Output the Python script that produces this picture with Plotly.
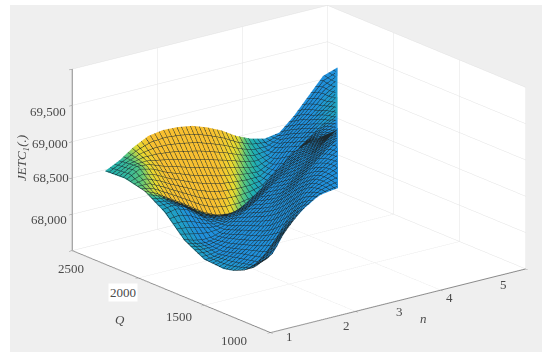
"""JETC surface over Q and n, drawn with Plotly."""

import numpy as np
import plotly.graph_objects as go

Q_ROWS = [2350, 2275, 2200, 2125, 2050, 1975, 1900, 1825, 1750, 1675, 1600, 1525, 1450, 1375, 1300, 1225, 1150]
N_LEFT = 1.2
N_RIGHT = [4.848, 4.692, 4.536, 4.382, 4.228, 4.072, 3.916, 3.762, 3.608, 3.454, 3.30, 3.144, 2.988, 2.834, 2.68, 2.524, 2.368]

JETC = [
    [68662, 68762, 68900, 69000, 69030, 69020, 68987, 68917, 68825, 68700, 68612, 68562, 68595, 68775, 69000, 69225, 69292],
    [68668, 68775, 68825, 68831, 68815, 68778, 68737, 68677, 68612, 68531, 68475, 68493, 68597, 68756, 68937, 69125, 69226],
    [68675, 68787, 68750, 68662, 68600, 68537, 68487, 68437, 68400, 68362, 68337, 68425, 68600, 68737, 68875, 69025, 69160],
    [68643, 68662, 68587, 68493, 68406, 68318, 68256, 68218, 68206, 68212, 68243, 68375, 68575, 68718, 68850, 68981, 69098],
    [68612, 68537, 68425, 68325, 68212, 68100, 68025, 68000, 68012, 68062, 68150, 68325, 68550, 68700, 68825, 68937, 69037],
    [68525, 68500, 68425, 68318, 68206, 68131, 68100, 68112, 68168, 68250, 68362, 68512, 68687, 68793, 68875, 68943, 69006],
    [68437, 68475, 68425, 68312, 68200, 68162, 68175, 68225, 68325, 68437, 68575, 68700, 68825, 68887, 68925, 68950, 68975],
    [68300, 68293, 68256, 68206, 68175, 68197, 68250, 68318, 68412, 68518, 68637, 68750, 68862, 68933, 68987, 69030, 69068],
    [68162, 68112, 68087, 68100, 68150, 68232, 68325, 68412, 68500, 68600, 68700, 68800, 68900, 68980, 69050, 69110, 69162],
    [68087, 68067, 68068, 68107, 68175, 68260, 68350, 68437, 68525, 68625, 68725, 68831, 68937, 69027, 69112, 69191, 69262],
    [68012, 68022, 68050, 68115, 68200, 68287, 68375, 68462, 68550, 68650, 68750, 68862, 68975, 69075, 69175, 69272, 69362],
    [68002, 68031, 68075, 68140, 68218, 68301, 68387, 68483, 68587, 68700, 68812, 68921, 69025, 69120, 69212, 69298, 69375],
    [67992, 68040, 68100, 68165, 68237, 68315, 68400, 68505, 68625, 68750, 68875, 68980, 69075, 69165, 69250, 69325, 69387],
    [68025, 68070, 68118, 68180, 68256, 68342, 68437, 68552, 68675, 68797, 68912, 69002, 69081, 69150, 69212, 69270, 69318],
    [68087, 68107, 68137, 68195, 68275, 68370, 68475, 68600, 68725, 68845, 68950, 69025, 69087, 69135, 69175, 69215, 69250],
    [68180, 68220, 68260, 68335, 68430, 68525, 68612, 68705, 68800, 68885, 68956, 69015, 69062, 69093, 69118, 69142, 69163],
    [68332, 68355, 68400, 68490, 68600, 68680, 68750, 68815, 68875, 68925, 68962, 69005, 69037, 69052, 69062, 69070, 69077],
]

SHADE = [
    [0.3, 0.35, 0.75, 1, 1, 1, 1, 1, 0.95, 0.85, 0.35, 0.1, 0, 0, 0, 0, 0],
    [0.33, 0.42, 0.8, 1, 1, 1, 1, 1, 0.9, 0.7, 0.3, 0.05, 0, 0, 0, 0, 0.05],
    [0.35, 0.5, 0.85, 1, 1, 1, 1, 1, 0.85, 0.55, 0.25, 0.05, 0, 0, 0, 0.1, 0.1],
    [0.45, 0.65, 0.9, 1, 1, 1, 1, 1, 0.75, 0.4, 0.15, 0, 0, 0, 0, 0.1, 0.2],
    [0.6, 0.8, 1, 1, 1, 1, 1, 0.85, 0.55, 0.25, 0.08, 0, 0, 0, 0, 0.1, 0.2],
    [0.2, 0.12, 0, 0, 0, 0, 0, 0, 0, 0, 0, 0, 0, 0, 0, 0, 0],
    [0.2, 0.12, 0, 0, 0, 0, 0, 0, 0, 0, 0, 0, 0, 0, 0, 0, 0],
    [0.2, 0.12, 0, 0, 0, 0, 0, 0, 0, 0, 0, 0, 0, 0, 0, 0, 0],
    [0.2, 0.12, 0, 0, 0, 0, 0, 0, 0, 0, 0, 0, 0, 0, 0, 0, 0],
    [0.2, 0.12, 0, 0, 0, 0, 0, 0, 0, 0, 0, 0, 0, 0, 0, 0, 0],
    [0.12, 0.06, 0, 0, 0, 0, 0, 0, 0, 0, 0, 0, 0, 0, 0, 0, 0],
    [0.12, 0.06, 0, 0, 0, 0, 0, 0, 0, 0, 0, 0, 0, 0, 0, 0, 0],
    [0.12, 0.06, 0, 0, 0, 0, 0, 0, 0, 0, 0, 0, 0, 0, 0, 0, 0],
    [0.12, 0.06, 0, 0, 0, 0, 0, 0, 0, 0, 0, 0, 0, 0, 0, 0, 0],
    [0.12, 0.06, 0, 0, 0, 0, 0, 0, 0, 0, 0, 0, 0, 0, 0, 0, 0],
    [0.08, 0.04, 0, 0, 0, 0, 0, 0, 0, 0, 0, 0, 0, 0, 0, 0, 0],
    [0.05, 0.02, 0, 0, 0, 0, 0, 0, 0, 0, 0, 0, 0, 0, 0, 0, 0],
]

Z_LABELS = ["69,500", "69,000", "68,500", "68,000"]
Q_LABELS = ["2500", "2000", "1500", "1000"]
N_LABELS = ["1", "2", "3", "4", "5"]

n_grid = np.array([np.linspace(N_LEFT, right, len(JETC[0])) for right in N_RIGHT])
q_grid = np.array([[q] * len(JETC[0]) for q in Q_ROWS])

fig = go.Figure(
    go.Surface(
        x=n_grid,
        y=q_grid,
        z=JETC,
        surfacecolor=SHADE,
        cmin=0,
        cmax=1,
        colorscale=[
            [0, "#2090dc"],
            [0.3, "#20b0b0"],
            [0.55, "#5cc87a"],
            [0.8, "#e8dc30"],
            [1, "#f8c030"],
        ],
        showscale=False,
        hoverinfo="skip",
        lighting=dict(ambient=1, diffuse=0, specular=0, roughness=1, fresnel=0),
        contours=dict(
            x=dict(show=True, start=1, end=5, size=0.07, color="#1c2a30", width=1),
            y=dict(show=True, start=1000, end=2500, size=27, color="#1c2a30", width=1),
        ),
    )
)

axis_style = dict(
    showbackground=True,
    backgroundcolor="white",
    gridcolor="#e2e2e2",
    gridwidth=1,
    showline=True,
    linecolor="#8a8a8a",
    linewidth=2,
    ticks="outside",
    ticklen=4,
    tickcolor="#8a8a8a",
    showticklabels=False,
    showspikes=False,
    zeroline=False,
    title=dict(text=""),
)

annotations = []
label_font = dict(family="Liberation Serif", size=13, color="#4a4a4a")
for text, x, y in zip(Z_LABELS, [48, 50, 51, 49], [111, 143, 177, 219]):
    annotations.append(dict(text=text, x=x, y=y))
for text, x, y in zip(Q_LABELS, [71, 123, 179, 234], [268, 292, 316, 340]):
    annotations.append(dict(text=text, x=x, y=y))
for text, x, y in zip(N_LABELS, [289, 346, 399, 449, 503], [336, 325, 311, 297, 284]):
    annotations.append(dict(text=text, x=x, y=y))
annotations.append(dict(text="<i>Q</i>", x=120, y=319))
annotations.append(dict(text="<i>n</i>", x=423, y=318))
annotations.append(dict(text="<i>JETC<sub>1</sub>(.)</i>", x=22, y=158, textangle=-90))
for a in annotations:
    a.update(
        xref="paper", yref="paper", showarrow=False, font=label_font,
        xanchor="center", yanchor="middle",
    )
    a["x"] = a["x"] / 550
    a["y"] = 1 - a["y"] / 359
annotations[5]["bgcolor"] = "white"

fig.update_layout(
    width=550,
    height=359,
    margin=dict(l=0, r=0, t=0, b=0),
    paper_bgcolor="white",
    shapes=[
        dict(
            type="rect", xref="paper", yref="paper", layer="below",
            x0=10 / 550, x1=542 / 550, y0=1 - 352 / 359, y1=1 - 5 / 359,
            fillcolor="#efefef", line_width=0,
        )
    ],
    annotations=annotations,
    scene=dict(
        domain=dict(x=[0.0873, 1], y=[0.0585, 1]),
        bgcolor="rgba(0,0,0,0)",
        aspectmode="manual",
        aspectratio=dict(x=1.912, y=1.912, z=1.134),
        camera=dict(
            projection=dict(type="orthographic"),
            up=dict(x=0, y=0, z=1),
            center=dict(x=0, y=0, z=0),
            eye=dict(x=-1.74, y=-2.24, z=0.963),
        ),
        xaxis=dict(axis_style, range=[1, 5], tickvals=[1, 2.333, 3.667, 5]),
        yaxis=dict(axis_style, range=[1000, 2500], tickvals=[1000, 1500, 2000, 2500]),
        zaxis=dict(axis_style, range=[67500, 70000], tickvals=[67500, 68000, 68500, 69000, 69500, 70000]),
    ),
)

fig.write_html(
    "out.html",
    config=dict(displayModeBar=False),
    post_script="document.body.style.margin = '0';",
)
